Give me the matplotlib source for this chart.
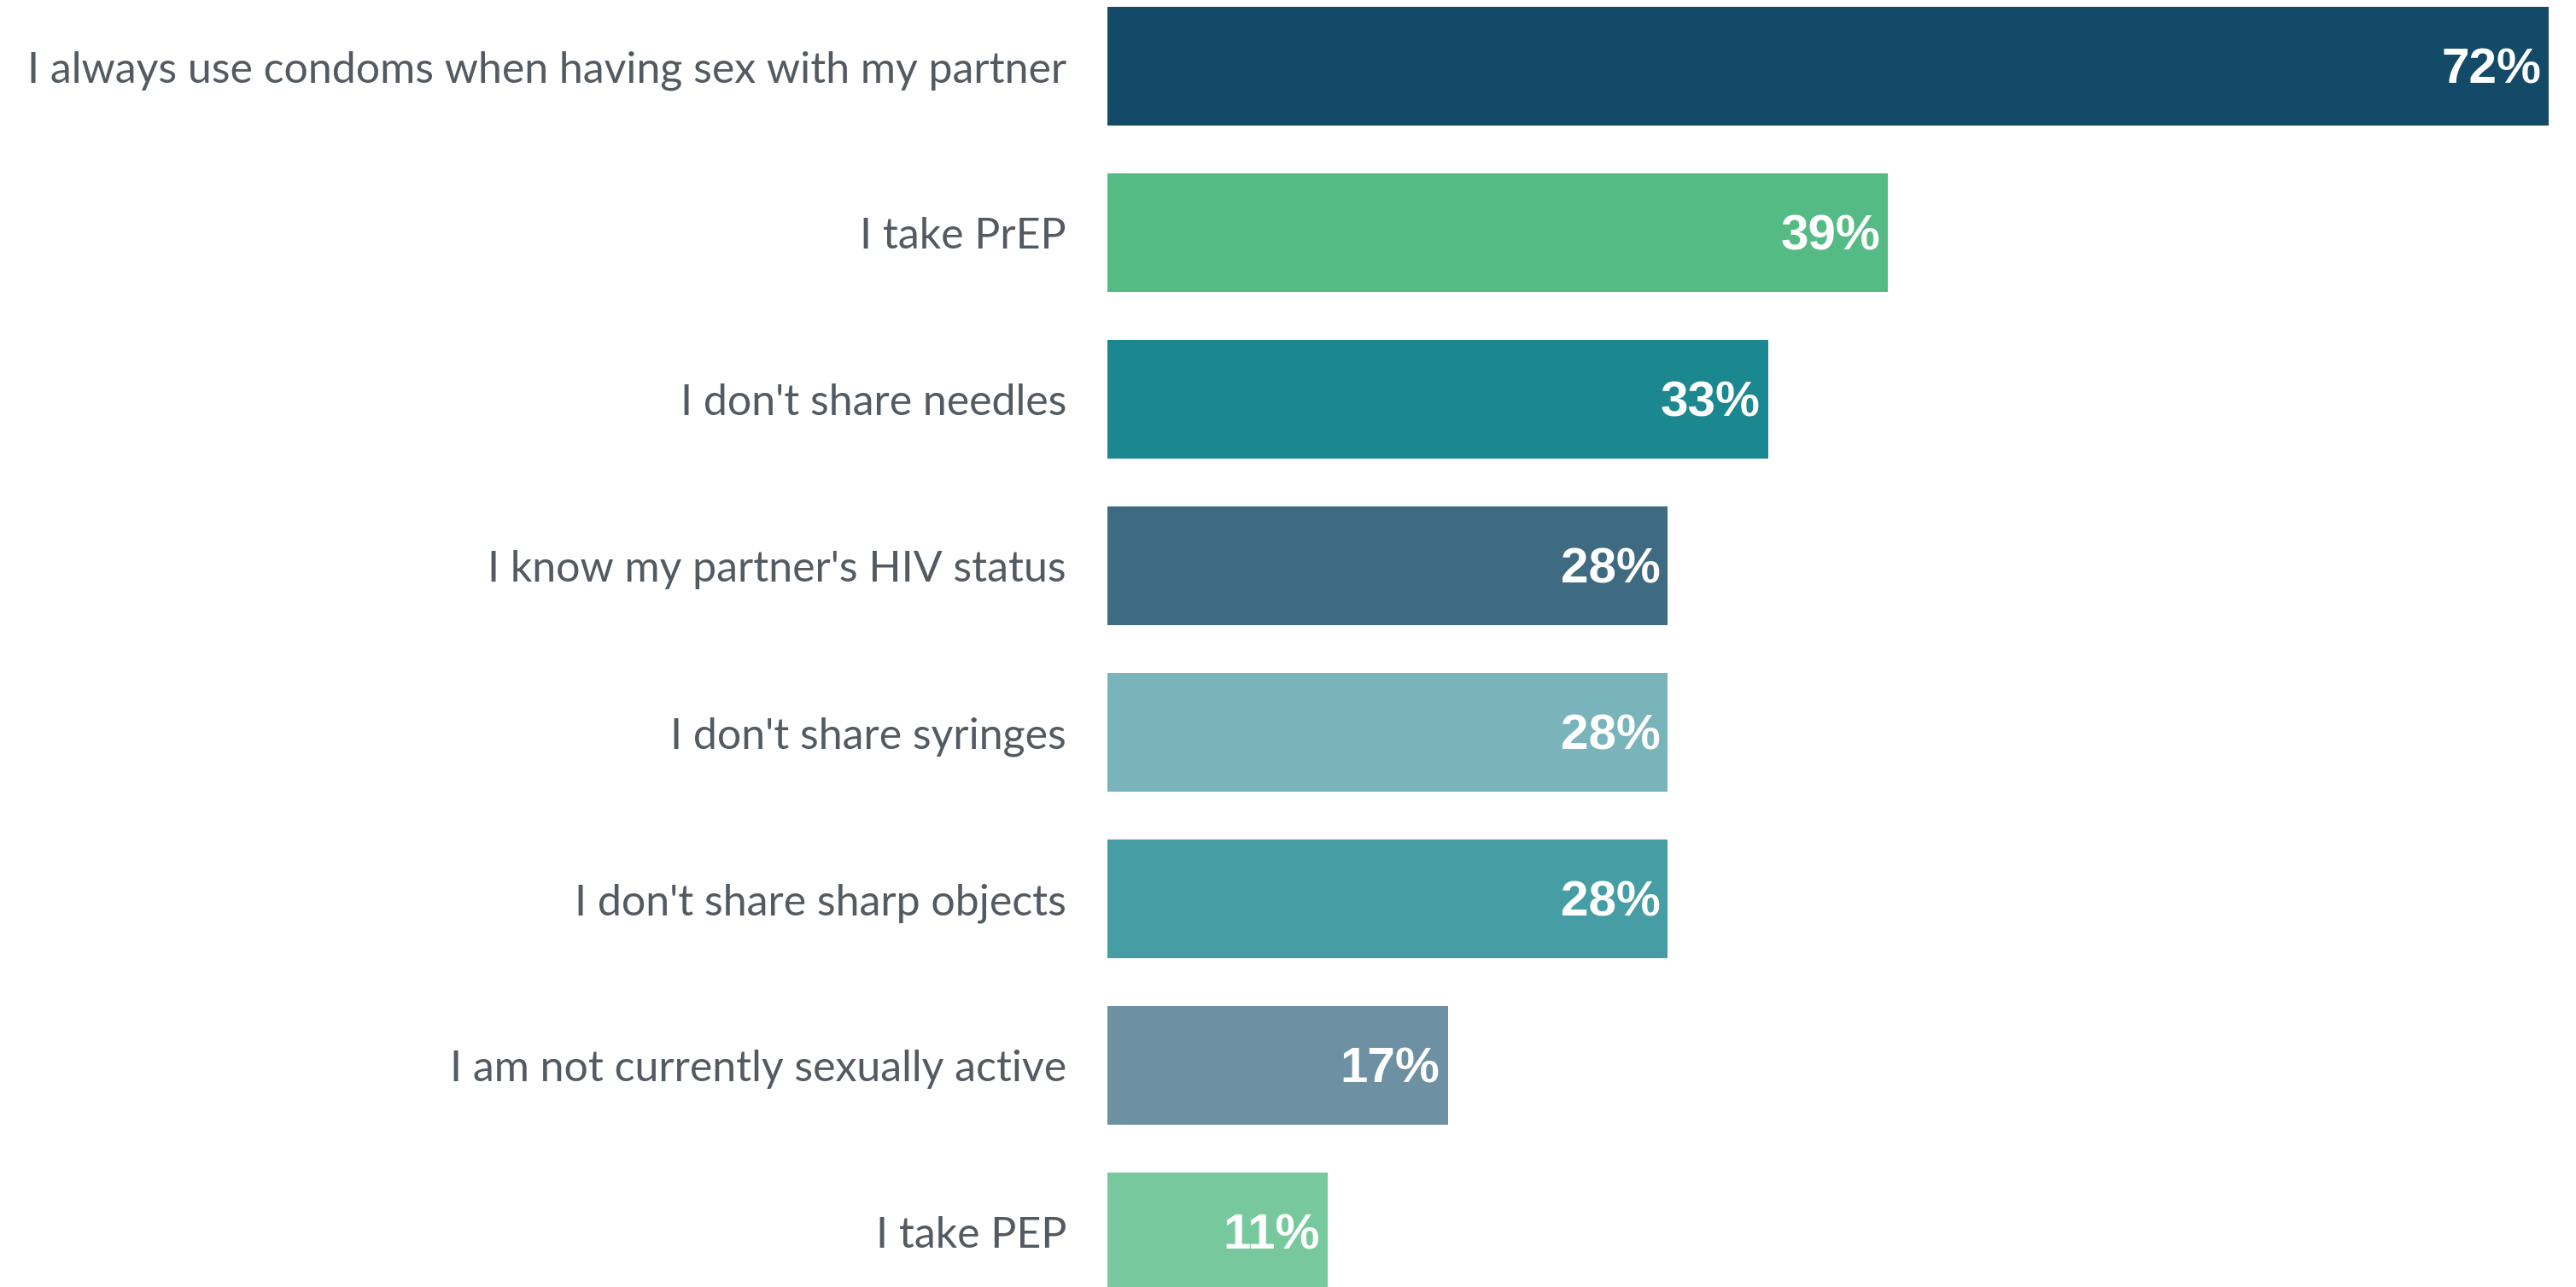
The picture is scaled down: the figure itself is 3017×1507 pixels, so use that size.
import matplotlib
matplotlib.use("Agg")
import matplotlib.pyplot as plt

categories = [
    "I always use condoms when having sex with my partner",
    "I take PrEP",
    "I don't share needles",
    "I know my partner's HIV status",
    "I don't share syringes",
    "I don't share sharp objects",
    "I am not currently sexually active",
    "I take PEP",
]
values = [72, 39, 33, 28, 28, 28, 17, 11]
colors = ["#124a68", "#55bb85", "#1b878f", "#3e6a82",
          "#7ab4bb", "#469ea4", "#6e90a3", "#77c99d"]

W, H = 3017, 1507
fig = plt.figure(figsize=(W / 100, H / 100), dpi=100)
ax = fig.add_axes([1297 / W, 0, (2985 - 1297) / W, 1])

ys = list(range(len(categories)))
ax.barh(ys, values, height=0.713, color=colors)
ax.set_xlim(0, 72)
ax.set_ylim(7.331, -0.397)

for y, v in zip(ys, values):
    ax.annotate(f"{v}%", xy=(v, y), xytext=(-9, -5), textcoords="offset pixels",
                ha="right", va="center", color="white", fontsize=42,
                fontweight="bold", family="Liberation Sans")

for y, c in zip(ys, categories):
    ax.annotate(c, xy=(0, y), xycoords=("axes fraction", "data"),
                xytext=(-48, -5), textcoords="offset pixels",
                ha="right", va="center", color="#545a61", fontsize=36,
                family="Lato", annotation_clip=False)

ax.set_yticks([])
ax.set_xticks([])
for s in ax.spines.values():
    s.set_visible(False)

fig.savefig("out.png", dpi=100, facecolor="white")
